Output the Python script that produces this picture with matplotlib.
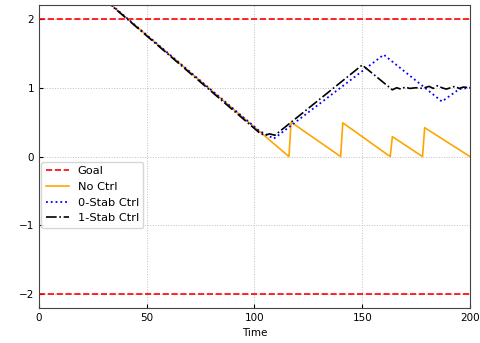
import matplotlib
matplotlib.use("Agg")
import matplotlib.pyplot as plt

goal = 2.0

# vertices of the (piecewise linear) trajectories
t_none = [0, 116, 117, 140, 141, 163, 164, 178, 179, 200]
x_none = [3.1, 0.0, 0.5, 0.0, 0.49, 0.0, 0.29, 0.0, 0.42, 0.0]

t_stab0 = [0, 102, 109, 160, 187, 195, 200]
x_stab0 = [3.1, 0.38, 0.26, 1.48, 0.80, 0.98, 1.0]

t_stab1 = [0, 102.5, 105, 107, 109.5, 150, 164, 166, 168, 170, 172, 175,
           178, 181, 183, 185, 187, 189, 191, 193, 195, 197, 200]
x_stab1 = [3.1, 0.34, 0.31, 0.33, 0.31, 1.33, 0.97, 1.0, 0.98, 1.01, 0.99, 1.0,
           0.99, 1.02, 0.99, 1.03, 1.0, 0.98, 1.0, 1.02, 0.99, 1.01, 1.0]

plt.rcParams['font.size'] = 7.5

fig = plt.figure(figsize=(4.81, 3.43), dpi=100)
ax = fig.add_axes([0.081, 0.102, 0.896, 0.883])

ax.axhline(goal, color='red', linestyle='--', lw=1.2, label='Goal')
ax.axhline(-goal, color='red', linestyle='--', lw=1.2)
ax.plot(t_none, x_none, color='orange', lw=1.2, label='No Ctrl')
ax.plot(t_stab0, x_stab0, color='blue', linestyle=':', lw=1.3, label='0-Stab Ctrl')
ax.plot(t_stab1, x_stab1, color='black', linestyle='-.', lw=1.2, label='1-Stab Ctrl')

ax.set_xlim(0, 200)
ax.set_ylim(-2.2, 2.2)
ax.set_xticks([0, 50, 100, 150, 200])
ax.set_yticks([-2, -1, 0, 1, 2])
ax.tick_params(direction='in', length=3)
ax.grid(True, linestyle=':', color='#c0c0c0', lw=0.7)
for s in ax.spines.values():
    s.set_color('#444444')
ax.set_xlabel('Time')
ax.legend(loc='lower left', bbox_to_anchor=(0.0, 0.257), fontsize=8.2,
          borderaxespad=0.2)

fig.savefig('out.png', dpi=100)
